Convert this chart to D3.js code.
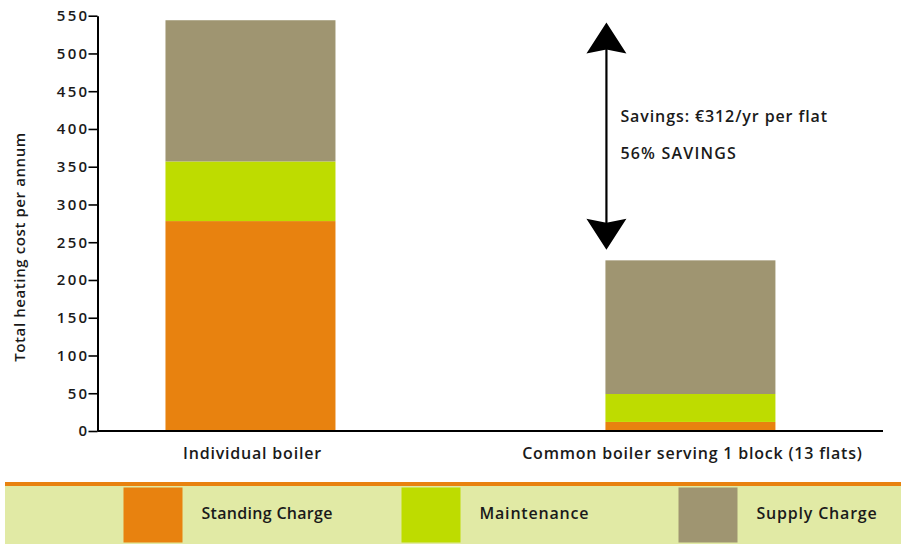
<!DOCTYPE html>
<html>
<head>
<meta charset="utf-8">
<script src="https://cdn.jsdelivr.net/npm/d3@7"></script>
<style>
  html, body { margin: 0; padding: 0; background: #fff; }
  svg { display: block; }
  text { font-family: "Open Sans", "DejaVu Sans", sans-serif; fill: #1a1a1a; }
</style>
</head>
<body>
<svg id="chart" width="901" height="544"></svg>
<script>
// ---- data ----
const categories = ["Individual boiler", "Common boiler serving 1 block (13 flats)"];
const seriesNames = ["Standing Charge", "Maintenance", "Supply Charge"];
const standingCharge = [278, 12];
const maintenance = [79, 37];
const supplyCharge = [187, 177];
const yTicks = [0, 50, 100, 150, 200, 250, 300, 350, 400, 450, 500, 550];
const yTitle = "Total heating cost per annum";
const annotationLines = ["Savings: €312/yr per flat", "56% SAVINGS"];
const arrowFrom = 541;
const arrowTo = 240;

const colors = ["#E8820F", "#BEDC00", "#9F9571"];

// ---- layout ----
const svg = d3.select("#chart");
const plot = { left: 97.5, top: 15.7, bottom: 431, right: 883 };

const y = d3.scaleLinear().domain([0, 550]).range([plot.bottom, plot.top]);
const x = d3.scaleBand().domain(categories)
  .range([97.5, 843.4]).paddingInner(0.6136).paddingOuter(0.1545);

const rows = categories.map((c, i) => ({
  cat: c,
  "Standing Charge": standingCharge[i],
  "Maintenance": maintenance[i],
  "Supply Charge": supplyCharge[i]
}));
const stacked = d3.stack().keys(seriesNames)(rows);

svg.append("g").selectAll("g").data(stacked).join("g")
  .attr("fill", (d, i) => colors[i])
  .selectAll("rect").data(d => d).join("rect")
  .attr("x", d => x(d.data.cat))
  .attr("width", x.bandwidth())
  .attr("y", d => y(d[1]))
  .attr("height", d => y(d[0]) - y(d[1]));

// y axis
const yAxis = svg.append("g")
  .attr("transform", `translate(${plot.left},0)`)
  .call(d3.axisLeft(y).tickValues(yTicks).tickSize(9).tickPadding(-1).tickSizeOuter(0));
yAxis.select(".domain").attr("stroke", "#000").attr("stroke-width", 2);
yAxis.selectAll(".tick line").attr("stroke", "#000").attr("stroke-width", 1.6);
yAxis.selectAll(".tick text")
  .style("font-family", "'Open Sans', sans-serif")
  .style("font-size", "15px").style("font-weight", "600")
  .style("letter-spacing", "2.3px")
  .attr("fill", "#1a1a1a");

// x axis baseline
svg.append("line")
  .attr("x1", plot.left).attr("x2", plot.right)
  .attr("y1", plot.bottom).attr("y2", plot.bottom)
  .attr("stroke", "#000").attr("stroke-width", 1.8);

const baseStyle = sel => sel.style("font-size", "16px").style("font-weight", "600")
  .style("letter-spacing", "0.8px");

// category labels
svg.append("g").selectAll("text").data(categories).join("text")
  .attr("x", d => x(d) + x.bandwidth() / 2 + 2)
  .attr("y", 459)
  .attr("text-anchor", "middle")
  .call(baseStyle)
  .text(d => d);

// y title
svg.append("text")
  .attr("transform", "translate(25,247) rotate(-90)")
  .attr("text-anchor", "middle")
  .style("font-size", "15px").style("font-weight", "600")
  .style("letter-spacing", "0.6px")
  .text(yTitle);

// savings arrow
const ax = x(categories[1]) + 1;
const yTop = y(arrowFrom), yBot = y(arrowTo);
svg.append("line")
  .attr("x1", ax).attr("x2", ax)
  .attr("y1", yTop + 20).attr("y2", yBot - 20)
  .attr("stroke", "#000").attr("stroke-width", 2.2);
svg.append("path")
  .attr("d", `M${ax},${yTop} L${ax + 20},${yTop + 31} L${ax},${yTop + 27} L${ax - 20},${yTop + 31} Z`)
  .attr("fill", "#000");
svg.append("path")
  .attr("d", `M${ax},${yBot} L${ax + 20},${yBot - 31} L${ax},${yBot - 27} L${ax - 20},${yBot - 31} Z`)
  .attr("fill", "#000");
svg.append("g").selectAll("text").data(annotationLines).join("text")
  .attr("x", ax + 14)
  .attr("y", (d, i) => 122 + i * 37)
  .call(baseStyle)
  .style("letter-spacing", (d, i) => i === 0 ? "0.9px" : "1.2px")
  .text(d => d);

// legend band
svg.append("rect").attr("x", 5).attr("y", 485).attr("width", 896).attr("height", 59)
  .attr("fill", "#E1EAA5");
svg.append("rect").attr("x", 5).attr("y", 482).attr("width", 896).attr("height", 4)
  .attr("fill", "#E8820F");

const legendX = [123.5, 401.5, 678.5];
const legendSpacing = ["0.3px", "0.8px", "0.8px"];
const lg = svg.append("g").selectAll("g").data(seriesNames).join("g")
  .attr("transform", (d, i) => `translate(${legendX[i]},487.5)`);
lg.append("rect").attr("width", 59).attr("height", 55)
  .attr("fill", (d, i) => colors[i]);
lg.append("text").attr("x", 78).attr("y", 31)
  .call(baseStyle)
  .style("letter-spacing", (d, i) => legendSpacing[i])
  .text(d => d);
</script>
</body>
</html>
